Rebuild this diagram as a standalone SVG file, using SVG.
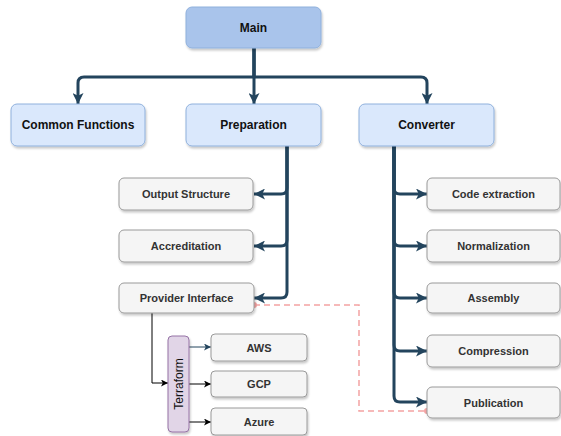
<svg xmlns="http://www.w3.org/2000/svg" width="561" height="436" viewBox="0 0 561 436">
<style>
.blue{fill:#dae8fc;stroke:#8fb0dc;stroke-width:1}
.main{fill:#a9c4eb;stroke:#8fb0dc;stroke-width:1}
.gray{fill:#f5f5f5;stroke:#9a9a9a;stroke-width:1}
.purple{fill:#e1d5e7;stroke:#9673a6;stroke-width:1}
.t{font-family:"Liberation Sans",Arial,Helvetica,sans-serif;font-weight:bold;text-anchor:middle;dominant-baseline:central;fill:#111}
.t12{font-size:12px}
.t11{font-size:11px;fill:#333}
.thick{fill:none;stroke:#23445d;stroke-width:3;stroke-linejoin:round}
.thin{fill:none;stroke:#000;stroke-width:1}
.dash{fill:none;stroke:#f4a3a3;stroke-width:1.5;stroke-dasharray:6 4}
</style>
<defs>
<filter id="sh" x="-10%" y="-10%" width="130%" height="150%">
<feDropShadow dx="1" dy="2" stdDeviation="1" flood-color="#000" flood-opacity="0.22"/>
</filter>
<marker id="ab" viewBox="0 0 10 10" refX="10" refY="5" markerWidth="11" markerHeight="11" markerUnits="userSpaceOnUse" orient="auto">
<path d="M0,0 L10,5 L0,10 L2.5,5 z" fill="#23445d"/>
</marker>
<marker id="as" viewBox="0 0 10 10" refX="10" refY="5" markerWidth="7" markerHeight="7" markerUnits="userSpaceOnUse" orient="auto">
<path d="M0,0 L10,5 L0,10 L2.5,5 z" fill="#000"/>
</marker>
<marker id="asb" viewBox="0 0 10 10" refX="10" refY="5" markerWidth="7" markerHeight="7" markerUnits="userSpaceOnUse" orient="auto">
<path d="M0,0 L10,5 L0,10 L2.5,5 z" fill="#23445d"/>
</marker>
</defs>

<g id="connectors">
<path class="thick" marker-end="url(#ab)" d="M254,48 V77 H84 Q78,77 78,83 V104"/>
<path class="thick" marker-end="url(#ab)" d="M254,48 V104"/>
<path class="thick" marker-end="url(#ab)" d="M254,48 V77 H421 Q427,77 427,83 V104"/>
<path class="thick" marker-end="url(#ab)" d="M287,146 V188 Q287,194 281,194 H254"/>
<path class="thick" marker-end="url(#ab)" d="M287,146 V240 Q287,246 281,246 H254"/>
<path class="thick" marker-end="url(#ab)" d="M287,146 V292 Q287,298 281,298 H254"/>
<path class="thick" marker-end="url(#ab)" d="M394,146 V188 Q394,194 400,194 H427"/>
<path class="thick" marker-end="url(#ab)" d="M394,146 V240 Q394,246 400,246 H427"/>
<path class="thick" marker-end="url(#ab)" d="M394,146 V292 Q394,298 400,298 H427"/>
<path class="thick" marker-end="url(#ab)" d="M394,146 V345 Q394,351 400,351 H427"/>
<path class="thick" marker-end="url(#ab)" d="M394,146 V396 Q394,402 400,402 H427"/>
<path class="thin" marker-end="url(#as)" d="M152,313 V383 H168"/>
<path class="thin" style="stroke:#23445d" marker-end="url(#asb)" d="M189,347 H211"/>
<path class="thin" marker-end="url(#as)" d="M189,384 H211"/>
<path class="thin" marker-end="url(#as)" d="M189,422 H211"/>
<path class="dash" d="M254,305 H359 V411 H427"/>
<circle cx="254" cy="305" r="3" fill="#f4a3a3"/>
<circle cx="427" cy="411" r="3" fill="#f4a3a3"/>
</g>

<g id="main"><rect class="main" filter="url(#sh)" x="186" y="7" width="135" height="41" rx="6"/><text class="t t12" x="253.5" y="28">Main</text></g>
<g id="common"><rect class="blue" filter="url(#sh)" x="11" y="104" width="134" height="42" rx="6"/><text class="t t12" x="78" y="125">Common Functions</text></g>
<g id="preparation"><rect class="blue" filter="url(#sh)" x="186" y="104" width="135" height="42" rx="6"/><text class="t t12" x="253.5" y="125">Preparation</text></g>
<g id="converter"><rect class="blue" filter="url(#sh)" x="359" y="104" width="135" height="42" rx="6"/><text class="t t12" x="426.5" y="125">Converter</text></g>

<g id="output-structure"><rect class="gray" filter="url(#sh)" x="119" y="178" width="134" height="32" rx="5"/><text class="t t11" x="186" y="194">Output Structure</text></g>
<g id="accreditation"><rect class="gray" filter="url(#sh)" x="119" y="230" width="134" height="32" rx="5"/><text class="t t11" x="186" y="246">Accreditation</text></g>
<g id="provider-interface"><rect class="gray" filter="url(#sh)" x="119" y="283" width="135" height="30" rx="5"/><text class="t t11" x="186.5" y="298">Provider Interface</text></g>

<g id="code-extraction"><rect class="gray" filter="url(#sh)" x="427" y="178" width="133" height="32" rx="5"/><text class="t t11" x="493.5" y="194">Code extraction</text></g>
<g id="normalization"><rect class="gray" filter="url(#sh)" x="427" y="230" width="133" height="32" rx="5"/><text class="t t11" x="493.5" y="246">Normalization</text></g>
<g id="assembly"><rect class="gray" filter="url(#sh)" x="427" y="283" width="133" height="30" rx="5"/><text class="t t11" x="493.5" y="298">Assembly</text></g>
<g id="compression"><rect class="gray" filter="url(#sh)" x="427" y="335" width="133" height="32" rx="5"/><text class="t t11" x="493.5" y="351">Compression</text></g>
<g id="publication"><rect class="gray" filter="url(#sh)" x="427" y="387" width="133" height="31" rx="5"/><text class="t t11" x="493.5" y="402.5">Publication</text></g>

<g id="terraform"><rect class="purple" filter="url(#sh)" x="168" y="336" width="21" height="96" rx="4"/><text x="179" y="384" transform="rotate(-90 179 384)" style="font-family:'Liberation Sans',Arial,sans-serif;font-size:12px;text-anchor:middle;dominant-baseline:central;fill:#111">Terraform</text></g>
<g id="aws"><rect class="gray" filter="url(#sh)" x="211" y="334" width="96" height="27" rx="4"/><text class="t t11" x="259" y="347.5">AWS</text></g>
<g id="gcp"><rect class="gray" filter="url(#sh)" x="211" y="371" width="96" height="26" rx="4"/><text class="t t11" x="259" y="384">GCP</text></g>
<g id="azure"><rect class="gray" filter="url(#sh)" x="211" y="408" width="96" height="27" rx="4"/><text class="t t11" x="259" y="421.5">Azure</text></g>
</svg>
